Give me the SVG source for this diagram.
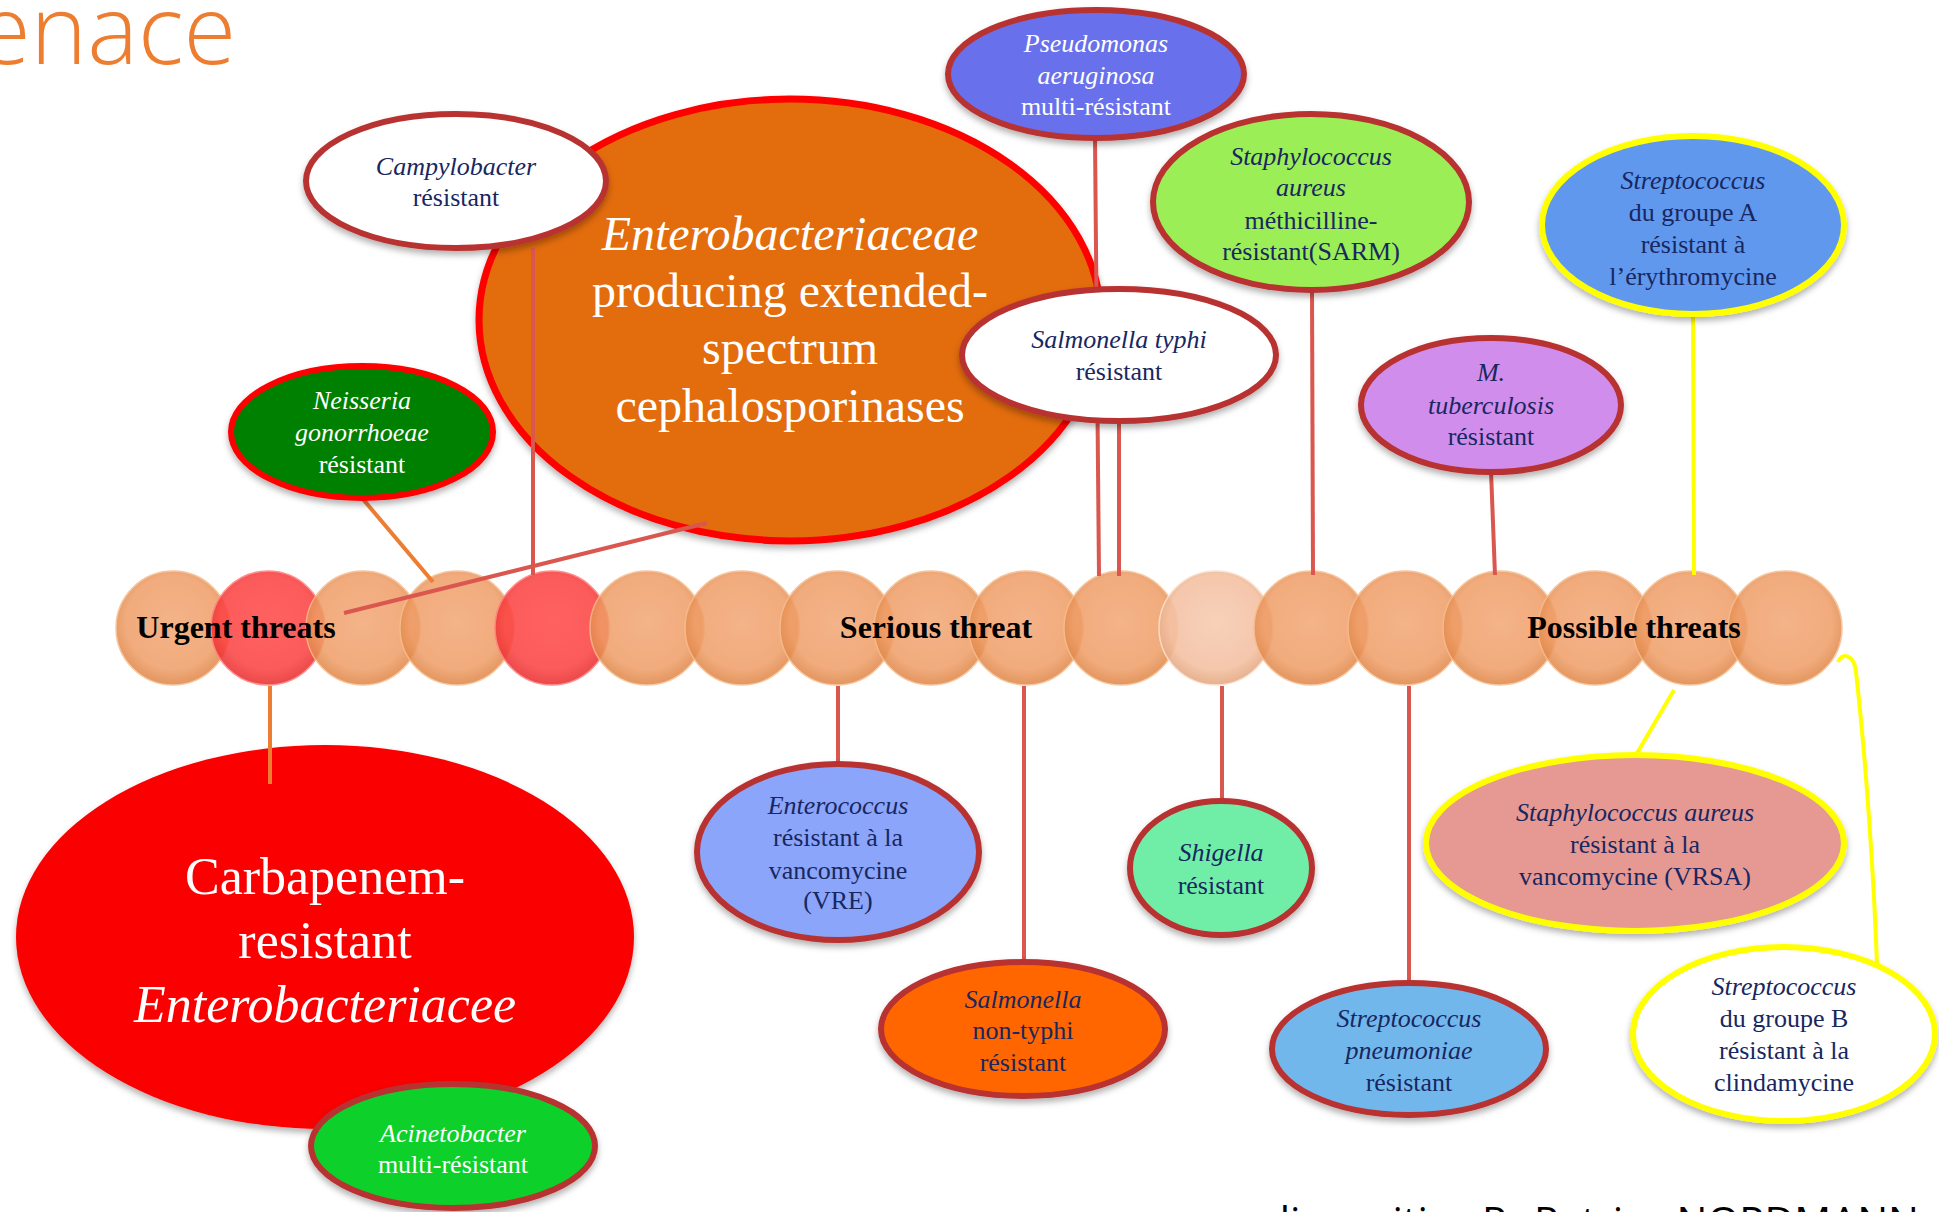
<svg xmlns="http://www.w3.org/2000/svg" width="1939" height="1212" viewBox="0 0 1939 1212">
  <defs>
    <radialGradient id="gBead" cx="50%" cy="45%" r="55%">
      <stop offset="0%" stop-color="#F3A675"/>
      <stop offset="75%" stop-color="#EF9D66"/>
      <stop offset="100%" stop-color="#DE8444"/>
    </radialGradient>
    <radialGradient id="gRed" cx="50%" cy="45%" r="55%">
      <stop offset="0%" stop-color="#FF4B4B"/>
      <stop offset="75%" stop-color="#FC4545"/>
      <stop offset="100%" stop-color="#E83030"/>
    </radialGradient>
    <radialGradient id="gPale" cx="50%" cy="45%" r="55%">
      <stop offset="0%" stop-color="#F7CCB2"/>
      <stop offset="75%" stop-color="#F4C2A4"/>
      <stop offset="100%" stop-color="#E4A882"/>
    </radialGradient>
    <filter id="sh" x="-10%" y="-10%" width="120%" height="130%">
      <feDropShadow dx="0" dy="4" stdDeviation="3" flood-color="#000" flood-opacity="0.3"/>
    </filter>
  </defs>
  <style>
    .t { font-family: "Liberation Serif", "Times New Roman", serif; font-size: 26px; text-anchor: middle; }
    .i { font-style: italic; }
    .navy { fill: #18275F; }
    .wh { fill: #FFFFFF; }
    .big { font-size: 48px; }
    .big2 { font-size: 52px; }
    .lbl { font-family: "Liberation Serif", "Times New Roman", serif; font-size: 32px; font-weight: bold; fill: #000; text-anchor: middle; }
    .rb { stroke: #B83230; stroke-width: 6; }
    .yb { stroke: #FFFF00; stroke-width: 6; }
    .bead { fill: url(#gBead); opacity: 0.85; stroke: #F6BC8C; stroke-width: 1.5; }
    .beadR { fill: url(#gRed); opacity: 0.88; stroke: #FF8080; stroke-width: 1.5; }
    .beadP { fill: url(#gPale); opacity: 0.9; stroke: #FBE0CC; stroke-width: 1.5; }
    .c { fill: none; stroke: #D9574F; stroke-width: 4; }
    .co { fill: none; stroke: #ED7D31; stroke-width: 4; }
    .cy { fill: none; stroke: #FFFF00; stroke-width: 4; }
  </style>
  <rect width="1939" height="1212" fill="#FFFFFF"/>

  <text x="-22" y="64" font-family="'Open Sans', 'Liberation Sans', sans-serif" font-weight="300" font-size="96" fill="#ED7D31" textLength="258" lengthAdjust="spacingAndGlyphs">enace</text>

  <g id="node-esbl">
    <ellipse cx="790" cy="320" rx="311" ry="221" fill="#E36C0D" stroke="#FF0000" stroke-width="7" filter="url(#sh)"/>
    <text class="t wh big i" x="790" y="250">Enterobacteriaceae</text>
    <text class="t wh big" x="790" y="307">producing extended-</text>
    <text class="t wh big" x="790" y="364">spectrum</text>
    <text class="t wh big" x="790" y="422">cephalosporinases</text>
  </g>

  <g id="node-cre">
    <ellipse cx="325" cy="937" rx="309" ry="192" fill="#FA0000" filter="url(#sh)"/>
    <text class="t wh big2" x="325" y="894">Carbapenem-</text>
    <text class="t wh big2" x="325" y="958">resistant</text>
    <text class="t wh big2 i" x="325" y="1022">Enterobacteriacee</text>
  </g>

  <g id="chain">
    <circle class="bead" cx="173" cy="628" r="57"/>
    <circle class="beadR" cx="268" cy="628" r="57"/>
    <circle class="bead" cx="363" cy="628" r="57"/>
    <circle class="bead" cx="457" cy="628" r="57"/>
    <circle class="beadR" cx="552" cy="628" r="57"/>
    <circle class="bead" cx="647" cy="628" r="57"/>
    <circle class="bead" cx="742" cy="628" r="57"/>
    <circle class="bead" cx="837" cy="628" r="57"/>
    <circle class="bead" cx="931" cy="628" r="57"/>
    <circle class="bead" cx="1026" cy="628" r="57"/>
    <circle class="bead" cx="1121" cy="628" r="57"/>
    <circle class="beadP" cx="1216" cy="628" r="57"/>
    <circle class="bead" cx="1311" cy="628" r="57"/>
    <circle class="bead" cx="1405" cy="628" r="57"/>
    <circle class="bead" cx="1500" cy="628" r="57"/>
    <circle class="bead" cx="1595" cy="628" r="57"/>
    <circle class="bead" cx="1690" cy="628" r="57"/>
    <circle class="bead" cx="1785" cy="628" r="57"/>
    <text class="lbl" x="236" y="638">Urgent threats</text>
    <text class="lbl" x="936" y="638">Serious threat</text>
    <text class="lbl" x="1634" y="638">Possible threats</text>
  </g>

  <g id="connectors">
    <line class="c" x1="533" y1="248" x2="533" y2="575"/>
    <line class="co" x1="362" y1="498" x2="433" y2="582"/>
    <line class="c" x1="707" y1="523" x2="344" y2="613"/>
    <line class="c" x1="1095" y1="138" x2="1099" y2="576"/>
    <line class="c" x1="1119" y1="421" x2="1119" y2="576"/>
    <line class="c" x1="1312" y1="290" x2="1313" y2="575"/>
    <line class="c" x1="1491" y1="471" x2="1495" y2="575"/>
    <line class="cy" x1="1693" y1="314" x2="1694" y2="575"/>
    <line class="co" x1="270" y1="686" x2="270" y2="784"/>
    <line class="c" x1="838" y1="686" x2="838" y2="764"/>
    <line class="c" x1="1024" y1="686" x2="1024" y2="962"/>
    <line class="c" x1="1222" y1="686" x2="1222" y2="801"/>
    <line class="c" x1="1409" y1="686" x2="1409" y2="982"/>
    <line class="cy" x1="1674" y1="690" x2="1636" y2="755"/>
    <path class="cy" d="M1838,662 C1842,652 1854,654 1856,672 C1866,760 1874,880 1877,964"/>
  </g>

  <g id="node-campylobacter">
    <ellipse class="rb" cx="456" cy="181" rx="150" ry="67" fill="#FFFFFF" filter="url(#sh)"/>
    <text class="t navy i" x="456" y="175">Campylobacter</text>
    <text class="t navy" x="456" y="206">résistant</text>
  </g>

  <g id="node-neisseria">
    <ellipse cx="362" cy="432" rx="131" ry="66" fill="#008000" stroke="#FF0000" stroke-width="6" filter="url(#sh)"/>
    <text class="t wh i" x="362" y="409">Neisseria</text>
    <text class="t wh i" x="362" y="441">gonorrhoeae</text>
    <text class="t wh" x="362" y="473">résistant</text>
  </g>

  <g id="node-pseudomonas">
    <ellipse class="rb" cx="1096" cy="74" rx="148" ry="64" fill="#6970EB" filter="url(#sh)"/>
    <text class="t wh i" x="1096" y="52">Pseudomonas</text>
    <text class="t wh i" x="1096" y="84">aeruginosa</text>
    <text class="t wh" x="1096" y="115">multi-résistant</text>
  </g>

  <g id="node-sarm">
    <ellipse class="rb" cx="1311" cy="202" rx="158" ry="88" fill="#9BEE55" filter="url(#sh)"/>
    <text class="t navy i" x="1311" y="165">Staphylococcus</text>
    <text class="t navy i" x="1311" y="196">aureus</text>
    <text class="t navy" x="1311" y="229">méthicilline-</text>
    <text class="t navy" x="1311" y="260">résistant(SARM)</text>
  </g>

  <g id="node-salmonella-typhi">
    <ellipse class="rb" cx="1119" cy="355" rx="157" ry="66" fill="#FFFFFF" filter="url(#sh)"/>
    <text class="t navy i" x="1119" y="348">Salmonella typhi</text>
    <text class="t navy" x="1119" y="380">résistant</text>
  </g>

  <g id="node-strep-a">
    <ellipse class="yb" cx="1693" cy="225" rx="151" ry="89" fill="#6098EE" filter="url(#sh)"/>
    <text class="t navy i" x="1693" y="189">Streptococcus</text>
    <text class="t navy" x="1693" y="221">du groupe A</text>
    <text class="t navy" x="1693" y="253">résistant à</text>
    <text class="t navy" x="1693" y="285">l’érythromycine</text>
  </g>

  <g id="node-tuberculosis">
    <ellipse class="rb" cx="1491" cy="405" rx="130" ry="67" fill="#D18DEB" filter="url(#sh)"/>
    <text class="t navy i" x="1491" y="381">M.</text>
    <text class="t navy i" x="1491" y="414">tuberculosis</text>
    <text class="t navy" x="1491" y="445">résistant</text>
  </g>

  <g id="node-acinetobacter">
    <ellipse class="rb" cx="453" cy="1146" rx="142" ry="62" fill="#0BD12B" filter="url(#sh)"/>
    <text class="t wh i" x="453" y="1142">Acinetobacter</text>
    <text class="t wh" x="453" y="1173">multi-résistant</text>
  </g>

  <g id="node-vre">
    <ellipse class="rb" cx="838" cy="852" rx="141" ry="88" fill="#8AA5FA" filter="url(#sh)"/>
    <text class="t navy i" x="838" y="814">Enterococcus</text>
    <text class="t navy" x="838" y="846">résistant à la</text>
    <text class="t navy" x="838" y="879">vancomycine</text>
    <text class="t navy" x="838" y="909">(VRE)</text>
  </g>

  <g id="node-salmonella-nontyphi">
    <ellipse class="rb" cx="1023" cy="1029" rx="142" ry="67" fill="#FF6600" filter="url(#sh)"/>
    <text class="t navy i" x="1023" y="1008">Salmonella</text>
    <text class="t navy" x="1023" y="1039">non-typhi</text>
    <text class="t navy" x="1023" y="1071">résistant</text>
  </g>

  <g id="node-shigella">
    <ellipse class="rb" cx="1221" cy="868" rx="91" ry="67" fill="#70EEA8" filter="url(#sh)"/>
    <text class="t navy i" x="1221" y="861">Shigella</text>
    <text class="t navy" x="1221" y="894">résistant</text>
  </g>

  <g id="node-pneumoniae">
    <ellipse class="rb" cx="1409" cy="1049" rx="137" ry="66" fill="#72B7EC" filter="url(#sh)"/>
    <text class="t navy i" x="1409" y="1027">Streptococcus</text>
    <text class="t navy i" x="1409" y="1059">pneumoniae</text>
    <text class="t navy" x="1409" y="1091">résistant</text>
  </g>

  <g id="node-vrsa">
    <ellipse class="yb" cx="1635" cy="843" rx="209" ry="88" fill="#E69893" filter="url(#sh)"/>
    <text class="t navy i" x="1635" y="821">Staphylococcus aureus</text>
    <text class="t navy" x="1635" y="853">résistant à la</text>
    <text class="t navy" x="1635" y="885">vancomycine (VRSA)</text>
  </g>

  <g id="node-strep-b">
    <ellipse class="yb" cx="1784" cy="1034" rx="151" ry="87" fill="#FFFFFF" filter="url(#sh)"/>
    <text class="t navy i" x="1784" y="995">Streptococcus</text>
    <text class="t navy" x="1784" y="1027">du groupe B</text>
    <text class="t navy" x="1784" y="1059">résistant à la</text>
    <text class="t navy" x="1784" y="1091">clindamycine</text>
  </g>

  <text x="1265" y="1236" font-family="'Open Sans', 'Liberation Sans', sans-serif" font-size="41" fill="#000000">diapositive Pr Patrice NORDMANN</text>
</svg>
